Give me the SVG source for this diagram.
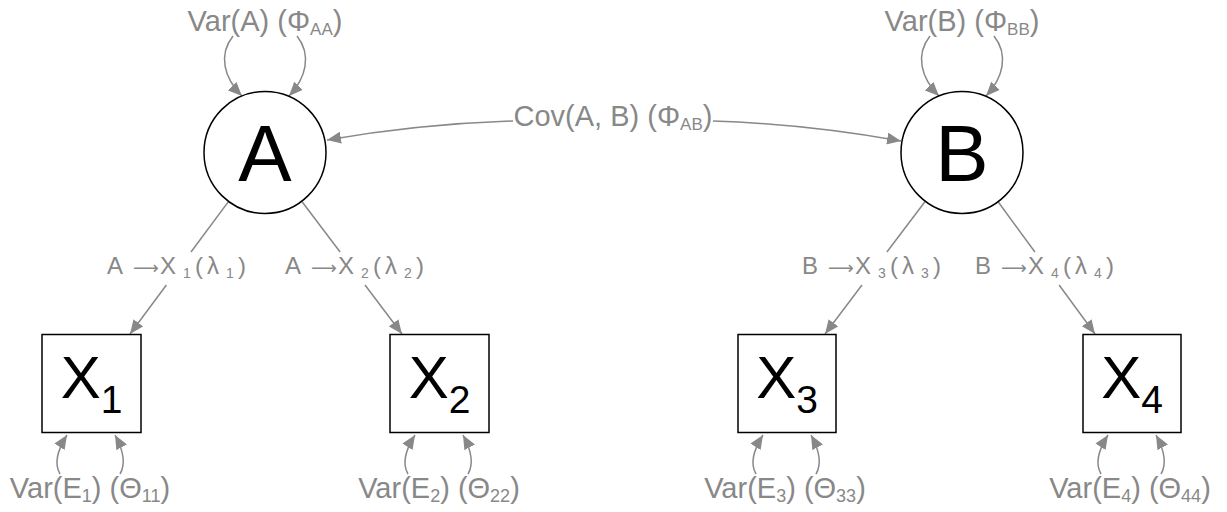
<svg xmlns="http://www.w3.org/2000/svg" width="1227" height="512" viewBox="0 0 1227 512">
<style>
.lbl{font-family:"Liberation Sans",Arial,sans-serif;fill:#888;text-anchor:middle}
.ld{font-family:"Liberation Sans",Arial,sans-serif;fill:#888;font-size:24px}
.ar{font-family:"DejaVu Sans",sans-serif;font-size:18px}
.sb{font-size:14px}
.big{font-size:29px}
.node{font-family:"Liberation Sans",Arial,sans-serif;fill:#000;text-anchor:middle}
.shape{fill:#fff;stroke:#000;stroke-width:1.5}
.edge{fill:none;stroke:#888;stroke-width:1.5}
.arr{marker-end:url(#ah)}
</style>
<defs>
<marker id="ah" markerWidth="15" markerHeight="12" refX="14" refY="6" orient="auto" markerUnits="userSpaceOnUse">
<path d="M0,0 L14,6 L0,12 z" fill="#888"/>
</marker>
</defs>
<rect width="1227" height="512" fill="#fff"/>

<g id="connectors">
<path class="edge arr" d="M233,36 C218,55 224,78 242,96"/>
<path class="edge arr" d="M297,36 C312,55 306,78 289,96"/>
<path class="edge arr" d="M930,36 C915,55 921,78 939,96"/>
<path class="edge arr" d="M994,36 C1009,55 1003,78 986,96"/>
<path class="edge arr" d="M513,121 Q420,124 327,140"/>
<path class="edge arr" d="M713,121 Q806,124 901,141"/>
<path class="edge" d="M228.6,201.4 L191,252"/>
<path class="edge arr" d="M166.4,285 L130,334"/>
<path class="edge" d="M301.7,201.2 L340.1,252"/>
<path class="edge arr" d="M365,285 L402,334"/>
<path class="edge" d="M925.3,201.2 L886.9,252"/>
<path class="edge arr" d="M862,285 L825,334"/>
<path class="edge" d="M998.1,201.7 L1034.9,252"/>
<path class="edge arr" d="M1059.1,285 L1095,334"/>
<path class="edge arr" d="M60,474 C53,462 60,446 67,435"/>
<path class="edge arr" d="M120,474 C127,462 121,446 115,435"/>
<path class="edge arr" d="M408,474 C401,462 408,446 415,435"/>
<path class="edge arr" d="M468,474 C475,462 469,446 463,435"/>
<path class="edge arr" d="M756,474 C749,462 756,446 763,435"/>
<path class="edge arr" d="M816,474 C823,462 817,446 811,435"/>
<path class="edge arr" d="M1101,474 C1094,462 1101,446 1108,435"/>
<path class="edge arr" d="M1161,474 C1168,462 1162,446 1156,435"/>
</g>

<g id="labels">
<text class="lbl big" x="265" y="31">Var(A) (Φ<tspan font-size="17" dy="4">AA</tspan><tspan dy="-4">)</tspan></text>
<text class="lbl big" x="962" y="31">Var(B) (Φ<tspan font-size="17" dy="4">BB</tspan><tspan dy="-4">)</tspan></text>
<text class="lbl big" x="613" y="126">Cov(A, B) (Φ<tspan font-size="17" dy="4">AB</tspan><tspan dy="-4">)</tspan></text>
<text class="ld" y="274"><tspan x="107">A</tspan><tspan class="ar" x="133">⟶</tspan><tspan x="160">X</tspan><tspan class="sb" x="183" dy="4">1</tspan><tspan x="195" dy="-4">(</tspan><tspan x="207">λ</tspan><tspan class="sb" x="226" dy="4">1</tspan><tspan x="238" dy="-4">)</tspan></text>
<text class="ld" y="274"><tspan x="285">A</tspan><tspan class="ar" x="311">⟶</tspan><tspan x="338">X</tspan><tspan class="sb" x="361" dy="4">2</tspan><tspan x="373" dy="-4">(</tspan><tspan x="385">λ</tspan><tspan class="sb" x="404" dy="4">2</tspan><tspan x="416" dy="-4">)</tspan></text>
<text class="ld" y="274"><tspan x="802">B</tspan><tspan class="ar" x="828">⟶</tspan><tspan x="855">X</tspan><tspan class="sb" x="878" dy="4">3</tspan><tspan x="890" dy="-4">(</tspan><tspan x="902">λ</tspan><tspan class="sb" x="921" dy="4">3</tspan><tspan x="933" dy="-4">)</tspan></text>
<text class="ld" y="274"><tspan x="975">B</tspan><tspan class="ar" x="1001">⟶</tspan><tspan x="1028">X</tspan><tspan class="sb" x="1051" dy="4">4</tspan><tspan x="1063" dy="-4">(</tspan><tspan x="1075">λ</tspan><tspan class="sb" x="1094" dy="4">4</tspan><tspan x="1106" dy="-4">)</tspan></text>
<text class="lbl big" x="90" y="498">Var(E<tspan font-size="18" dy="4">1</tspan><tspan dy="-4">) (Θ</tspan><tspan font-size="18" dy="4">11</tspan><tspan dy="-4">)</tspan></text>
<text class="lbl big" x="439" y="498">Var(E<tspan font-size="18" dy="4">2</tspan><tspan dy="-4">) (Θ</tspan><tspan font-size="18" dy="4">22</tspan><tspan dy="-4">)</tspan></text>
<text class="lbl big" x="785" y="498">Var(E<tspan font-size="18" dy="4">3</tspan><tspan dy="-4">) (Θ</tspan><tspan font-size="18" dy="4">33</tspan><tspan dy="-4">)</tspan></text>
<text class="lbl big" x="1130" y="498">Var(E<tspan font-size="18" dy="4">4</tspan><tspan dy="-4">) (Θ</tspan><tspan font-size="18" dy="4">44</tspan><tspan dy="-4">)</tspan></text>
</g>

<g id="node-A">
<circle class="shape" cx="265" cy="152.5" r="61"/>
<text class="node" x="265" y="181" font-size="80">A</text>
</g>
<g id="node-B">
<circle class="shape" cx="962" cy="152.5" r="61"/>
<text class="node" x="962" y="181" font-size="80">B</text>
</g>
<g id="node-X1">
<rect class="shape" x="42" y="334.5" width="99" height="98"/>
<text class="node" x="91.5" y="398" font-size="60">X<tspan font-size="39" dy="15">1</tspan></text>
</g>
<g id="node-X2">
<rect class="shape" x="390" y="334.5" width="99" height="98"/>
<text class="node" x="439.5" y="398" font-size="60">X<tspan font-size="39" dy="15">2</tspan></text>
</g>
<g id="node-X3">
<rect class="shape" x="738" y="334.5" width="98" height="98"/>
<text class="node" x="787" y="398" font-size="60">X<tspan font-size="39" dy="15">3</tspan></text>
</g>
<g id="node-X4">
<rect class="shape" x="1083" y="334.5" width="98" height="98"/>
<text class="node" x="1132" y="398" font-size="60">X<tspan font-size="39" dy="15">4</tspan></text>
</g>
</svg>
